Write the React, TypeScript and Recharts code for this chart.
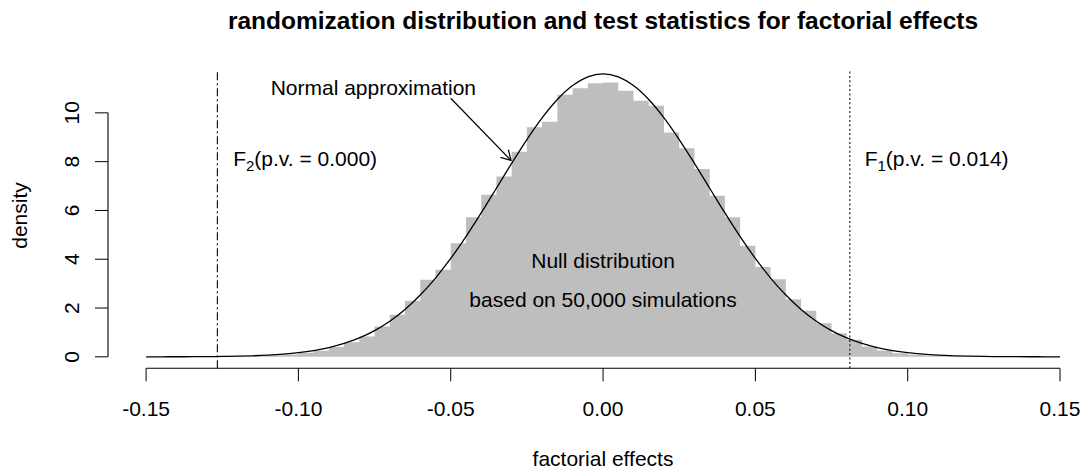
// Randomization distribution of factorial effects — histogram + normal approximation

import { ComposedChart, Area, Line, XAxis, YAxis, ReferenceLine, ReferenceDot } from 'recharts';

const FONT = '"Liberation Sans", Arial, Helvetica, sans-serif';

// bin edges of the histogram (each bar starts at its edge, width 0.005)
const binEdges = [
  -0.15, -0.145, -0.14, -0.135, -0.13, -0.125, -0.12, -0.115, -0.11, -0.105,
  -0.1, -0.095, -0.09, -0.085, -0.08, -0.075, -0.07, -0.065, -0.06, -0.055,
  -0.05, -0.045, -0.04, -0.035, -0.03, -0.025, -0.02, -0.015, -0.01, -0.005,
  0, 0.005, 0.01, 0.015, 0.02, 0.025, 0.03, 0.035, 0.04, 0.045,
  0.05, 0.055, 0.06, 0.065, 0.07, 0.075, 0.08, 0.085, 0.09, 0.095,
  0.1, 0.105, 0.11, 0.115, 0.12, 0.125, 0.13, 0.135, 0.14, 0.145, 0.15,
];

// simulated null distribution, density of each bin
const nullDensity = [
  0, 0, 0, 0, 0, 0, 0.01, 0.03, 0.06, 0.1,
  0.17, 0.25, 0.4, 0.6, 0.83, 1.24, 1.72, 2.3, 3.16, 3.57,
  4.66, 5.72, 6.64, 7.39, 8.41, 9.41, 9.64, 10.74, 11.01, 11.21,
  11.24, 10.91, 10.5, 10.29, 9.19, 8.55, 7.7, 6.6, 5.72, 4.55,
  3.68, 3.18, 2.36, 1.89, 1.38, 0.97, 0.7, 0.42, 0.26, 0.15,
  0.09, 0.05, 0.03, 0.01, 0, 0, 0, 0, 0, 0, 0,
];

// normal approximation read at the same x positions
const normalDensity = [
  0.001, 0.002, 0.003, 0.005, 0.009, 0.016, 0.026, 0.043, 0.07, 0.11,
  0.169, 0.256, 0.378, 0.547, 0.775, 1.076, 1.462, 1.944, 2.532, 3.228,
  4.031, 4.928, 5.898, 6.911, 7.93, 8.907, 9.795, 10.547, 11.12, 11.478,
  11.6, 11.478, 11.12, 10.547, 9.795, 8.907, 7.93, 6.911, 5.898, 4.928,
  4.031, 3.228, 2.532, 1.944, 1.462, 1.076, 0.775, 0.547, 0.378, 0.256,
  0.169, 0.11, 0.07, 0.043, 0.026, 0.016, 0.009, 0.005, 0.003, 0.002, 0.001,
];

const xTicks = [-0.15, -0.1, -0.05, 0, 0.05, 0.1, 0.15];
const yTicks = [0, 2, 4, 6, 8, 10];

const F1 = 0.081;
const F2 = -0.1266;
const STAT_LINE_TOP = 11.75;

const X_DOMAIN: [number, number] = [-0.1625, 0.1582];
const Y_DOMAIN: [number, number] = [-0.47, 12.06];

const data = binEdges.map((x, i) => ({ x, hist: nullDensity[i], normal: normalDensity[i] }));

function XTick({ x, y, payload }: any) {
  return (
    <text x={x} y={y + 34.4} textAnchor="middle" fontSize={21} fontFamily={FONT} fill="#000">
      {Number(payload.value).toFixed(2)}
    </text>
  );
}

function YTick({ x, y, payload }: any) {
  const bx = x - 15.7;
  return (
    <text x={bx} y={y} transform={`rotate(-90 ${bx} ${y})`} textAnchor="middle" fontSize={21} fontFamily={FONT} fill="#000">
      {payload.value}
    </text>
  );
}

const note = (content: React.ReactNode) => (p: any) => (
  <text x={p.cx} y={p.cy + 7.5} textAnchor="middle" fontSize={21} fontFamily={FONT} fill="#000">
    {content}
  </text>
);

const fStat = (i: string, pv: string) => (
  <>
    <tspan>F</tspan>
    <tspan fontSize={15} dy={5}>{i}</tspan>
    <tspan dy={-5}>{`(p.v. = ${pv})`}</tspan>
  </>
);

function Arrow({ x1, y1, x2, y2 }: any) {
  const a = Math.atan2(y2 - y1, x2 - x1);
  const len = 11;
  const spread = Math.PI / 6;
  const hx1 = x2 - len * Math.cos(a - spread);
  const hy1 = y2 - len * Math.sin(a - spread);
  const hx2 = x2 - len * Math.cos(a + spread);
  const hy2 = y2 - len * Math.sin(a + spread);
  return (
    <g stroke="#000" strokeWidth={1.2} fill="none">
      <line x1={x1} y1={y1} x2={x2} y2={y2} />
      <polyline points={`${hx1},${hy1} ${x2},${y2} ${hx2},${hy2}`} />
    </g>
  );
}

export default function App() {
  return (
    <div style={{ position: 'absolute', left: 0, top: 0, width: 1085, height: 471, background: '#fff' }}>
      <svg width={1085} height={471} style={{ position: 'absolute', left: 0, top: 0 }}>
        <text x={603} y={29} textAnchor="middle" fontSize={24.5} fontWeight="bold" fontFamily={FONT} fill="#000">
          randomization distribution and test statistics for factorial effects
        </text>
        <text x={603} y={466} textAnchor="middle" fontSize={21} fontFamily={FONT} fill="#000">
          factorial effects
        </text>
        <text x={27} y={215.5} transform="rotate(-90 27 215.5)" textAnchor="middle" fontSize={21} fontFamily={FONT} fill="#000">
          density
        </text>
      </svg>
      <div style={{ position: 'absolute', left: 0, top: 0 }}>
        <ComposedChart width={1085} height={471} data={data} margin={{ top: 62.6, right: 0, bottom: 42.7, left: 0 }}>
          <XAxis
            dataKey="x"
            type="number"
            domain={X_DOMAIN}
            allowDataOverflow
            ticks={xTicks}
            axisLine={false}
            tickSize={13}
            tickMargin={0}
            tickLine={{ stroke: '#000', strokeWidth: 1 }}
            tick={<XTick />}
            height={60}
            interval={0}
          />
          <YAxis
            type="number"
            domain={Y_DOMAIN}
            allowDataOverflow
            ticks={yTicks}
            axisLine={false}
            tickSize={13}
            tickMargin={0}
            tickLine={{ stroke: '#000', strokeWidth: 1 }}
            tick={<YTick />}
            width={108}
            interval={0}
          />
          <Area
            type="stepAfter"
            dataKey="hist"
            fill="#BEBEBE"
            fillOpacity={1}
            stroke="none"
            baseValue={0}
            dot={false}
            activeDot={false}
            isAnimationActive={false}
          />
          <Line
            type="monotone"
            dataKey="normal"
            stroke="#000"
            strokeWidth={1.3}
            dot={false}
            activeDot={false}
            isAnimationActive={false}
          />
          <ReferenceLine
            segment={[{ x: F2, y: Y_DOMAIN[0] }, { x: F2, y: STAT_LINE_TOP }]}
            stroke="#000"
            strokeWidth={1.1}
            strokeDasharray="8 3 2 3"
            ifOverflow="visible"
          />
          <ReferenceLine
            segment={[{ x: F1, y: Y_DOMAIN[0] }, { x: F1, y: STAT_LINE_TOP }]}
            stroke="#222"
            strokeWidth={1.2}
            strokeDasharray="2 2.4"
            ifOverflow="visible"
          />
          {/* R-style axis lines that stop at the outer ticks */}
          <ReferenceLine
            segment={[{ x: -0.15, y: Y_DOMAIN[0] }, { x: 0.15, y: Y_DOMAIN[0] }]}
            stroke="#000"
            strokeWidth={1.1}
            ifOverflow="visible"
          />
          <ReferenceLine
            segment={[{ x: X_DOMAIN[0], y: 0 }, { x: X_DOMAIN[0], y: 10 }]}
            stroke="#000"
            strokeWidth={1.1}
            ifOverflow="visible"
          />
          <ReferenceLine
            segment={[{ x: -0.05, y: 10.6 }, { x: -0.0302, y: 8.05 }]}
            ifOverflow="visible"
            shape={<Arrow />}
          />
          <ReferenceDot x={-0.0754} y={11.02} r={0} ifOverflow="visible" shape={note('Normal approximation')} />
          <ReferenceDot x={-0.0978} y={8.13} r={0} ifOverflow="visible" shape={note(fStat('2', '0.000'))} />
          <ReferenceDot x={0.1095} y={8.13} r={0} ifOverflow="visible" shape={note(fStat('1', '0.014'))} />
          <ReferenceDot x={0} y={3.93} r={0} ifOverflow="visible" shape={note('Null distribution')} />
          <ReferenceDot x={0} y={2.36} r={0} ifOverflow="visible" shape={note('based on 50,000 simulations')} />
        </ComposedChart>
      </div>
    </div>
  );
}
